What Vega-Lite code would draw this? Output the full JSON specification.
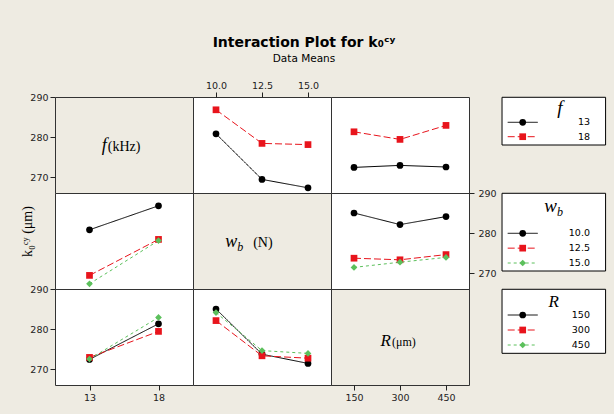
{
  "$schema": "https://vega.github.io/schema/vega-lite/v6.json",
  "autosize": {"type": "none"},
  "padding": {"left": 55, "top": 97, "right": 559, "bottom": 317},
  "background": "#EEEBE2",
  "title": {"text": "Interaction Plot for k₀ᶜʸ", "subtitle": "Data Means", "font": "DejaVu Sans", "fontSize": 14, "fontWeight": "bold", "color": "black", "subtitleFont": "DejaVu Sans", "subtitleFontSize": 10.5, "subtitleColor": "black", "subtitlePadding": 4, "anchor": "middle", "frame": "group", "dx": 249, "offset": 15},
  "datasets": {
    "fw": [
      {"f": "13", "w": "10.0", "y": 280.8}, {"f": "13", "w": "12.5", "y": 269.4}, {"f": "13", "w": "15.0", "y": 267.3},
      {"f": "18", "w": "10.0", "y": 286.8}, {"f": "18", "w": "12.5", "y": 278.4}, {"f": "18", "w": "15.0", "y": 278.1}
    ],
    "fR": [
      {"f": "13", "R": "150", "y": 272.4}, {"f": "13", "R": "300", "y": 272.9}, {"f": "13", "R": "450", "y": 272.5},
      {"f": "18", "R": "150", "y": 281.3}, {"f": "18", "R": "300", "y": 279.4}, {"f": "18", "R": "450", "y": 282.9}
    ],
    "wR": [
      {"w": "10.0", "R": "150", "y": 285.0}, {"w": "10.0", "R": "300", "y": 282.1}, {"w": "10.0", "R": "450", "y": 284.1},
      {"w": "12.5", "R": "150", "y": 273.7}, {"w": "12.5", "R": "300", "y": 273.3}, {"w": "12.5", "R": "450", "y": 274.6},
      {"w": "15.0", "R": "150", "y": 271.4}, {"w": "15.0", "R": "300", "y": 272.7}, {"w": "15.0", "R": "450", "y": 273.9}
    ],
    "legF": [{"level": "13"}, {"level": "18"}],
    "legW": [{"level": "10.0"}, {"level": "12.5"}, {"level": "15.0"}],
    "legR": [{"level": "150"}, {"level": "300"}, {"level": "450"}]
  },
  "columns": 4,
  "spacing": 0,
  "bounds": "flush",
  "concat": [
    {
      "width": 138, "height": 96,
      "data": {"values": [{"name": "f", "unit": "(kHz)"}]},
      "encoding": {
        "x": {"datum": 0.375, "type": "quantitative", "scale": {"domain": [0, 1]}, "axis": null},
        "y": {"datum": 276.6, "type": "quantitative", "scale": {"domain": [266, 290], "nice": false, "zero": false}, "axis": {"orient": "left", "values": [270, 280, 290], "title": null}}
      },
      "layer": [
        {"mark": {"type": "text", "align": "right", "baseline": "alphabetic", "font": "Liberation Serif", "fontStyle": "italic", "fontSize": 18, "color": "black"}, "encoding": {"text": {"field": "name"}}},
        {"mark": {"type": "text", "align": "left", "baseline": "alphabetic", "font": "Liberation Serif", "fontSize": 14, "dx": 1, "color": "black"}, "encoding": {"text": {"field": "unit"}}}
      ]
    },
    {
      "width": 138, "height": 96, "view": {"fill": "white"},
      "data": {"name": "fw"},
      "encoding": {
        "x": {"field": "w", "type": "ordinal", "scale": {"type": "point", "padding": 0.5, "domain": ["10.0", "12.5", "15.0"]}, "axis": {"orient": "top", "labelAngle": 0, "title": null}},
        "y": {"field": "y", "type": "quantitative", "scale": {"domain": [266, 290], "nice": false, "zero": false}, "axis": null},
        "color": {"field": "f", "type": "nominal", "legend": null, "scale": {"domain": ["13", "18", "10.0", "12.5", "15.0", "150", "300", "450"], "range": ["#000000", "#e8141c", "#000000", "#e8141c", "#5cc05c", "#000000", "#e8141c", "#5cc05c"]}}
      },
      "layer": [
        {"mark": {"type": "line", "strokeWidth": 1}, "encoding": {"strokeDash": {"field": "f", "type": "nominal", "legend": null, "scale": {"domain": ["13", "18", "10.0", "12.5", "15.0", "150", "300", "450"], "range": [[1, 0], [7, 3], [1, 0], [7, 3], [3, 3], [1, 0], [7, 3], [3, 3]]}}}},
        {"mark": {"type": "point", "filled": true, "size": 45, "opacity": 1}, "encoding": {"shape": {"field": "f", "type": "nominal", "legend": null, "scale": {"domain": ["13", "18", "10.0", "12.5", "15.0", "150", "300", "450"], "range": ["circle", "square", "circle", "square", "diamond", "circle", "square", "diamond"]}}}}
      ]
    },
    {
      "width": 138, "height": 96, "view": {"fill": "white"},
      "data": {"name": "fR"},
      "encoding": {
        "x": {"field": "R", "type": "ordinal", "scale": {"type": "point", "padding": 0.5, "domain": ["150", "300", "450"]}, "axis": null},
        "y": {"field": "y", "type": "quantitative", "scale": {"domain": [266, 290], "nice": false, "zero": false}, "axis": null},
        "color": {"field": "f", "type": "nominal", "legend": null, "scale": {"domain": ["13", "18", "10.0", "12.5", "15.0", "150", "300", "450"], "range": ["#000000", "#e8141c", "#000000", "#e8141c", "#5cc05c", "#000000", "#e8141c", "#5cc05c"]}}
      },
      "layer": [
        {"mark": {"type": "line", "strokeWidth": 1}, "encoding": {"strokeDash": {"field": "f", "type": "nominal", "legend": null, "scale": {"domain": ["13", "18", "10.0", "12.5", "15.0", "150", "300", "450"], "range": [[1, 0], [7, 3], [1, 0], [7, 3], [3, 3], [1, 0], [7, 3], [3, 3]]}}}},
        {"mark": {"type": "point", "filled": true, "size": 45, "opacity": 1}, "encoding": {"shape": {"field": "f", "type": "nominal", "legend": null, "scale": {"domain": ["13", "18", "10.0", "12.5", "15.0", "150", "300", "450"], "range": ["circle", "square", "circle", "square", "diamond", "circle", "square", "diamond"]}}}}
      ]
    },
    {
      "width": 137, "height": 96, "view": {"stroke": null},
      "resolve": {"scale": {"y": "independent"}},
      "layer": [
        {"data": {"values": [{"t": "f"}]}, "mark": {"type": "rect", "fill": "white", "stroke": "black", "strokeWidth": 1},
         "encoding": {"x": {"datum": 0.241, "type": "quantitative", "scale": {"domain": [0, 1]}, "axis": null}, "x2": {"datum": 0.997}, "y": {"datum": 0.003, "type": "quantitative", "scale": {"domain": [0, 1], "reverse": true}, "axis": null}, "y2": {"datum": 0.5}}},
        {"data": {"values": [{"t": "f"}]}, "mark": {"type": "text", "align": "center", "baseline": "alphabetic", "font": "Liberation Serif", "fontStyle": "italic", "fontSize": 19, "color": "black"},
         "encoding": {"x": {"datum": 0.664, "type": "quantitative", "scale": {"domain": [0, 1]}, "axis": null}, "y": {"datum": 0.173, "type": "quantitative", "scale": {"domain": [0, 1], "reverse": true}, "axis": null}, "text": {"field": "t"}}},
        {"data": {"name": "legF"}, "mark": {"type": "rule", "strokeWidth": 1},
         "encoding": {"x": {"datum": 0.2825, "type": "quantitative", "scale": {"domain": [0, 1]}, "axis": null}, "x2": {"datum": 0.5015}, "y": {"field": "level", "type": "ordinal", "scale": {"type": "point", "domain": ["13", "18"], "range": [25.3, 39.7], "padding": 0}, "axis": null},
          "color": {"field": "level", "type": "nominal", "legend": null, "scale": {"domain": ["13", "18", "10.0", "12.5", "15.0", "150", "300", "450"], "range": ["#000000", "#e8141c", "#000000", "#e8141c", "#5cc05c", "#000000", "#e8141c", "#5cc05c"]}},
          "strokeDash": {"field": "level", "type": "nominal", "legend": null, "scale": {"domain": ["13", "18", "10.0", "12.5", "15.0", "150", "300", "450"], "range": [[1, 0], [7, 3], [1, 0], [7, 3], [3, 3], [1, 0], [7, 3], [3, 3]]}}}},
        {"data": {"name": "legF"}, "mark": {"type": "point", "filled": true, "size": 45, "opacity": 1},
         "encoding": {"x": {"datum": 0.392, "type": "quantitative", "scale": {"domain": [0, 1]}, "axis": null}, "y": {"field": "level", "type": "ordinal", "scale": {"type": "point", "domain": ["13", "18"], "range": [25.3, 39.7], "padding": 0}, "axis": null},
          "color": {"field": "level", "type": "nominal", "legend": null, "scale": {"domain": ["13", "18", "10.0", "12.5", "15.0", "150", "300", "450"], "range": ["#000000", "#e8141c", "#000000", "#e8141c", "#5cc05c", "#000000", "#e8141c", "#5cc05c"]}},
          "shape": {"field": "level", "type": "nominal", "legend": null, "scale": {"domain": ["13", "18", "10.0", "12.5", "15.0", "150", "300", "450"], "range": ["circle", "square", "circle", "square", "diamond", "circle", "square", "diamond"]}}}},
        {"data": {"name": "legF"}, "mark": {"type": "text", "align": "right", "baseline": "middle", "font": "DejaVu Sans", "fontSize": 9.5, "color": "black"},
         "encoding": {"x": {"datum": 0.883, "type": "quantitative", "scale": {"domain": [0, 1]}, "axis": null}, "y": {"field": "level", "type": "ordinal", "scale": {"type": "point", "domain": ["13", "18"], "range": [25.3, 39.7], "padding": 0}, "axis": null}, "text": {"field": "level"}}}
      ]
    },
    {
      "width": 138, "height": 96, "view": {"fill": "white"},
      "data": {"name": "fw"},
      "encoding": {
        "x": {"field": "f", "type": "ordinal", "scale": {"type": "point", "padding": 0.5, "domain": ["13", "18"]}, "axis": null},
        "y": {"field": "y", "type": "quantitative", "scale": {"domain": [266, 290], "nice": false, "zero": false}, "axis": {"orient": "left", "labels": false, "ticks": false, "title": "k₀ᶜʸ (μm)", "titleFont": "Liberation Serif", "titleFontSize": 14, "titleFontWeight": "normal", "titleColor": "black", "titlePadding": 21, "titleY": 38}},
        "color": {"field": "w", "type": "nominal", "legend": null, "scale": {"domain": ["13", "18", "10.0", "12.5", "15.0", "150", "300", "450"], "range": ["#000000", "#e8141c", "#000000", "#e8141c", "#5cc05c", "#000000", "#e8141c", "#5cc05c"]}}
      },
      "layer": [
        {"mark": {"type": "line", "strokeWidth": 1}, "encoding": {"strokeDash": {"field": "w", "type": "nominal", "legend": null, "scale": {"domain": ["13", "18", "10.0", "12.5", "15.0", "150", "300", "450"], "range": [[1, 0], [7, 3], [1, 0], [7, 3], [3, 3], [1, 0], [7, 3], [3, 3]]}}}},
        {"mark": {"type": "point", "filled": true, "size": 45, "opacity": 1}, "encoding": {"shape": {"field": "w", "type": "nominal", "legend": null, "scale": {"domain": ["13", "18", "10.0", "12.5", "15.0", "150", "300", "450"], "range": ["circle", "square", "circle", "square", "diamond", "circle", "square", "diamond"]}}}}
      ]
    },
    {
      "width": 138, "height": 96,
      "data": {"values": [{"name": "w", "sub": "b", "unit": "(N)"}]},
      "encoding": {
        "x": {"datum": 0.32, "type": "quantitative", "scale": {"domain": [0, 1]}, "axis": null},
        "y": {"datum": 276.5, "type": "quantitative", "scale": {"domain": [266, 290], "nice": false, "zero": false}, "axis": null}
      },
      "layer": [
        {"mark": {"type": "text", "align": "right", "baseline": "alphabetic", "font": "Liberation Serif", "fontStyle": "italic", "fontSize": 18, "color": "black"}, "encoding": {"text": {"field": "name"}}},
        {"mark": {"type": "text", "align": "left", "baseline": "alphabetic", "font": "Liberation Serif", "fontStyle": "italic", "fontSize": 12, "dy": 4, "color": "black"}, "encoding": {"text": {"field": "sub"}}},
        {"mark": {"type": "text", "align": "left", "baseline": "alphabetic", "font": "Liberation Serif", "fontSize": 14, "dx": 16, "color": "black"}, "encoding": {"text": {"field": "unit"}}}
      ]
    },
    {
      "width": 138, "height": 96, "view": {"fill": "white"},
      "data": {"name": "wR"},
      "encoding": {
        "x": {"field": "R", "type": "ordinal", "scale": {"type": "point", "padding": 0.5, "domain": ["150", "300", "450"]}, "axis": null},
        "y": {"field": "y", "type": "quantitative", "scale": {"domain": [266, 290], "nice": false, "zero": false}, "axis": {"orient": "right", "values": [270, 280, 290], "title": null, "labelPadding": 4}},
        "color": {"field": "w", "type": "nominal", "legend": null, "scale": {"domain": ["13", "18", "10.0", "12.5", "15.0", "150", "300", "450"], "range": ["#000000", "#e8141c", "#000000", "#e8141c", "#5cc05c", "#000000", "#e8141c", "#5cc05c"]}}
      },
      "layer": [
        {"mark": {"type": "line", "strokeWidth": 1}, "encoding": {"strokeDash": {"field": "w", "type": "nominal", "legend": null, "scale": {"domain": ["13", "18", "10.0", "12.5", "15.0", "150", "300", "450"], "range": [[1, 0], [7, 3], [1, 0], [7, 3], [3, 3], [1, 0], [7, 3], [3, 3]]}}}},
        {"mark": {"type": "point", "filled": true, "size": 45, "opacity": 1}, "encoding": {"shape": {"field": "w", "type": "nominal", "legend": null, "scale": {"domain": ["13", "18", "10.0", "12.5", "15.0", "150", "300", "450"], "range": ["circle", "square", "circle", "square", "diamond", "circle", "square", "diamond"]}}}}
      ]
    },
    {
      "width": 137, "height": 96, "view": {"stroke": null},
      "resolve": {"scale": {"y": "independent"}},
      "layer": [
        {"data": {"values": [{"t": "w"}]}, "mark": {"type": "rect", "fill": "white", "stroke": "black", "strokeWidth": 1},
         "encoding": {"x": {"datum": 0.241, "type": "quantitative", "scale": {"domain": [0, 1]}, "axis": null}, "x2": {"datum": 0.997}, "y": {"datum": 0.003, "type": "quantitative", "scale": {"domain": [0, 1], "reverse": true}, "axis": null}, "y2": {"datum": 0.8125}}},
        {"data": {"values": [{"t": "w"}]}, "mark": {"type": "text", "align": "right", "baseline": "alphabetic", "font": "Liberation Serif", "fontStyle": "italic", "fontSize": 19, "color": "black"},
         "encoding": {"x": {"datum": 0.642, "type": "quantitative", "scale": {"domain": [0, 1]}, "axis": null}, "y": {"datum": 0.195, "type": "quantitative", "scale": {"domain": [0, 1], "reverse": true}, "axis": null}, "text": {"field": "t"}}},
        {"data": {"values": [{"t": "b"}]}, "mark": {"type": "text", "align": "left", "baseline": "alphabetic", "font": "Liberation Serif", "fontStyle": "italic", "fontSize": 12, "color": "black"},
         "encoding": {"x": {"datum": 0.642, "type": "quantitative", "scale": {"domain": [0, 1]}, "axis": null}, "y": {"datum": 0.24, "type": "quantitative", "scale": {"domain": [0, 1], "reverse": true}, "axis": null}, "text": {"field": "t"}}},
        {"data": {"name": "legW"}, "mark": {"type": "rule", "strokeWidth": 1},
         "encoding": {"x": {"datum": 0.2825, "type": "quantitative", "scale": {"domain": [0, 1]}, "axis": null}, "x2": {"datum": 0.5015}, "y": {"field": "level", "type": "ordinal", "scale": {"type": "point", "domain": ["10.0", "12.5", "15.0"], "range": [40.3, 70], "padding": 0}, "axis": null},
          "color": {"field": "level", "type": "nominal", "legend": null, "scale": {"domain": ["13", "18", "10.0", "12.5", "15.0", "150", "300", "450"], "range": ["#000000", "#e8141c", "#000000", "#e8141c", "#5cc05c", "#000000", "#e8141c", "#5cc05c"]}},
          "strokeDash": {"field": "level", "type": "nominal", "legend": null, "scale": {"domain": ["13", "18", "10.0", "12.5", "15.0", "150", "300", "450"], "range": [[1, 0], [7, 3], [1, 0], [7, 3], [3, 3], [1, 0], [7, 3], [3, 3]]}}}},
        {"data": {"name": "legW"}, "mark": {"type": "point", "filled": true, "size": 45, "opacity": 1},
         "encoding": {"x": {"datum": 0.392, "type": "quantitative", "scale": {"domain": [0, 1]}, "axis": null}, "y": {"field": "level", "type": "ordinal", "scale": {"type": "point", "domain": ["10.0", "12.5", "15.0"], "range": [40.3, 70], "padding": 0}, "axis": null},
          "color": {"field": "level", "type": "nominal", "legend": null, "scale": {"domain": ["13", "18", "10.0", "12.5", "15.0", "150", "300", "450"], "range": ["#000000", "#e8141c", "#000000", "#e8141c", "#5cc05c", "#000000", "#e8141c", "#5cc05c"]}},
          "shape": {"field": "level", "type": "nominal", "legend": null, "scale": {"domain": ["13", "18", "10.0", "12.5", "15.0", "150", "300", "450"], "range": ["circle", "square", "circle", "square", "diamond", "circle", "square", "diamond"]}}}},
        {"data": {"name": "legW"}, "mark": {"type": "text", "align": "right", "baseline": "middle", "font": "DejaVu Sans", "fontSize": 9.5, "color": "black"},
         "encoding": {"x": {"datum": 0.883, "type": "quantitative", "scale": {"domain": [0, 1]}, "axis": null}, "y": {"field": "level", "type": "ordinal", "scale": {"type": "point", "domain": ["10.0", "12.5", "15.0"], "range": [40.3, 70], "padding": 0}, "axis": null}, "text": {"field": "level"}}}
      ]
    },
    {
      "width": 138, "height": 96, "view": {"fill": "white"},
      "data": {"name": "fR"},
      "encoding": {
        "x": {"field": "f", "type": "ordinal", "scale": {"type": "point", "padding": 0.5, "domain": ["13", "18"]}, "axis": {"orient": "bottom", "labelAngle": 0, "title": null}},
        "y": {"field": "y", "type": "quantitative", "scale": {"domain": [266, 290], "nice": false, "zero": false}, "axis": {"orient": "left", "values": [270, 280, 290], "title": null}},
        "color": {"field": "R", "type": "nominal", "legend": null, "scale": {"domain": ["13", "18", "10.0", "12.5", "15.0", "150", "300", "450"], "range": ["#000000", "#e8141c", "#000000", "#e8141c", "#5cc05c", "#000000", "#e8141c", "#5cc05c"]}}
      },
      "layer": [
        {"mark": {"type": "line", "strokeWidth": 1}, "encoding": {"strokeDash": {"field": "R", "type": "nominal", "legend": null, "scale": {"domain": ["13", "18", "10.0", "12.5", "15.0", "150", "300", "450"], "range": [[1, 0], [7, 3], [1, 0], [7, 3], [3, 3], [1, 0], [7, 3], [3, 3]]}}}},
        {"mark": {"type": "point", "filled": true, "size": 45, "opacity": 1}, "encoding": {"shape": {"field": "R", "type": "nominal", "legend": null, "scale": {"domain": ["13", "18", "10.0", "12.5", "15.0", "150", "300", "450"], "range": ["circle", "square", "circle", "square", "diamond", "circle", "square", "diamond"]}}}}
      ]
    },
    {
      "width": 138, "height": 96, "view": {"fill": "white"},
      "data": {"name": "wR"},
      "encoding": {
        "x": {"field": "w", "type": "ordinal", "scale": {"type": "point", "padding": 0.5, "domain": ["10.0", "12.5", "15.0"]}, "axis": null},
        "y": {"field": "y", "type": "quantitative", "scale": {"domain": [266, 290], "nice": false, "zero": false}, "axis": null},
        "color": {"field": "R", "type": "nominal", "legend": null, "scale": {"domain": ["13", "18", "10.0", "12.5", "15.0", "150", "300", "450"], "range": ["#000000", "#e8141c", "#000000", "#e8141c", "#5cc05c", "#000000", "#e8141c", "#5cc05c"]}}
      },
      "layer": [
        {"mark": {"type": "line", "strokeWidth": 1}, "encoding": {"strokeDash": {"field": "R", "type": "nominal", "legend": null, "scale": {"domain": ["13", "18", "10.0", "12.5", "15.0", "150", "300", "450"], "range": [[1, 0], [7, 3], [1, 0], [7, 3], [3, 3], [1, 0], [7, 3], [3, 3]]}}}},
        {"mark": {"type": "point", "filled": true, "size": 45, "opacity": 1}, "encoding": {"shape": {"field": "R", "type": "nominal", "legend": null, "scale": {"domain": ["13", "18", "10.0", "12.5", "15.0", "150", "300", "450"], "range": ["circle", "square", "circle", "square", "diamond", "circle", "square", "diamond"]}}}}
      ]
    },
    {
      "width": 138, "height": 96,
      "data": {"values": [{"name": "R", "unit": "(μm)"}]},
      "encoding": {
        "x": {"datum": "300", "type": "ordinal", "scale": {"type": "point", "padding": 0.5, "domain": ["150", "300", "450"]}, "axis": {"orient": "bottom", "labelAngle": 0, "title": null}},
        "y": {"datum": 275.8, "type": "quantitative", "scale": {"domain": [266, 290], "nice": false, "zero": false}, "axis": null}
      },
      "layer": [
        {"mark": {"type": "text", "align": "right", "baseline": "alphabetic", "font": "Liberation Serif", "fontStyle": "italic", "fontSize": 17, "dx": -9, "color": "black"}, "encoding": {"text": {"field": "name"}}},
        {"mark": {"type": "text", "align": "left", "baseline": "alphabetic", "font": "Liberation Serif", "fontSize": 12, "dx": -8, "color": "black"}, "encoding": {"text": {"field": "unit"}}}
      ]
    },
    {
      "width": 137, "height": 96, "view": {"stroke": null},
      "resolve": {"scale": {"y": "independent"}},
      "layer": [
        {"data": {"values": [{"t": "R"}]}, "mark": {"type": "rect", "fill": "white", "stroke": "black", "strokeWidth": 1},
         "encoding": {"x": {"datum": 0.241, "type": "quantitative", "scale": {"domain": [0, 1]}, "axis": null}, "x2": {"datum": 0.997}, "y": {"datum": 0.003, "type": "quantitative", "scale": {"domain": [0, 1], "reverse": true}, "axis": null}, "y2": {"datum": 0.67}}},
        {"data": {"values": [{"t": "R"}]}, "mark": {"type": "text", "align": "center", "baseline": "alphabetic", "font": "Liberation Serif", "fontStyle": "italic", "fontSize": 17, "color": "black"},
         "encoding": {"x": {"datum": 0.619, "type": "quantitative", "scale": {"domain": [0, 1]}, "axis": null}, "y": {"datum": 0.184, "type": "quantitative", "scale": {"domain": [0, 1], "reverse": true}, "axis": null}, "text": {"field": "t"}}},
        {"data": {"name": "legR"}, "mark": {"type": "rule", "strokeWidth": 1},
         "encoding": {"x": {"datum": 0.2825, "type": "quantitative", "scale": {"domain": [0, 1]}, "axis": null}, "x2": {"datum": 0.5015}, "y": {"field": "level", "type": "ordinal", "scale": {"type": "point", "domain": ["150", "300", "450"], "range": [26, 56], "padding": 0}, "axis": null},
          "color": {"field": "level", "type": "nominal", "legend": null, "scale": {"domain": ["13", "18", "10.0", "12.5", "15.0", "150", "300", "450"], "range": ["#000000", "#e8141c", "#000000", "#e8141c", "#5cc05c", "#000000", "#e8141c", "#5cc05c"]}},
          "strokeDash": {"field": "level", "type": "nominal", "legend": null, "scale": {"domain": ["13", "18", "10.0", "12.5", "15.0", "150", "300", "450"], "range": [[1, 0], [7, 3], [1, 0], [7, 3], [3, 3], [1, 0], [7, 3], [3, 3]]}}}},
        {"data": {"name": "legR"}, "mark": {"type": "point", "filled": true, "size": 45, "opacity": 1},
         "encoding": {"x": {"datum": 0.392, "type": "quantitative", "scale": {"domain": [0, 1]}, "axis": null}, "y": {"field": "level", "type": "ordinal", "scale": {"type": "point", "domain": ["150", "300", "450"], "range": [26, 56], "padding": 0}, "axis": null},
          "color": {"field": "level", "type": "nominal", "legend": null, "scale": {"domain": ["13", "18", "10.0", "12.5", "15.0", "150", "300", "450"], "range": ["#000000", "#e8141c", "#000000", "#e8141c", "#5cc05c", "#000000", "#e8141c", "#5cc05c"]}},
          "shape": {"field": "level", "type": "nominal", "legend": null, "scale": {"domain": ["13", "18", "10.0", "12.5", "15.0", "150", "300", "450"], "range": ["circle", "square", "circle", "square", "diamond", "circle", "square", "diamond"]}}}},
        {"data": {"name": "legR"}, "mark": {"type": "text", "align": "right", "baseline": "middle", "font": "DejaVu Sans", "fontSize": 9.5, "color": "black"},
         "encoding": {"x": {"datum": 0.883, "type": "quantitative", "scale": {"domain": [0, 1]}, "axis": null}, "y": {"field": "level", "type": "ordinal", "scale": {"type": "point", "domain": ["150", "300", "450"], "range": [26, 56], "padding": 0}, "axis": null}, "text": {"field": "level"}}}
      ]
    }
  ],
  "config": {
    "view": {"stroke": "#333333", "strokeWidth": 1},
    "axis": {"domain": false, "grid": false, "labelFont": "DejaVu Sans", "labelFontSize": 9.5, "labelColor": "#222222", "tickColor": "#222222", "tickSize": 5, "labelPadding": 2}
  }
}
